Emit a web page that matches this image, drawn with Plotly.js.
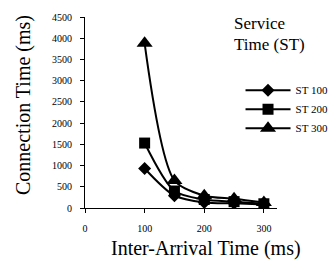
<!DOCTYPE html>
<html>
<head>
<meta charset="utf-8">
<script src="https://cdn.plot.ly/plotly-3.0.1.min.js"></script>
<style>html,body{margin:0;padding:0;background:#fff;}#chart{width:329px;height:260px;}</style>
</head>
<body>
<div id="chart"></div>
<script>
var interArrival = [100, 150, 200, 250, 300];
var st100 = [930, 290, 130, 110, 80];
var st200 = [1530, 400, 200, 150, 100];
var st300 = [3880, 650, 290, 220, 130];
var seriesNames = ['ST 100', 'ST 200', 'ST 300'];
var xTicks = [0, 100, 200, 300];
var yTicks = [0, 500, 1000, 1500, 2000, 2500, 3000, 3500, 4000, 4500];

var FONT = 'Liberation Serif';
var symbols = ['diamond', 'square', 'triangle-up'];
var sizes = [10, 11, 14];
var data = [st100, st200, st300].map(function (ys, i) {
  return {
    x: interArrival, y: ys, name: seriesNames[i], type: 'scatter', mode: 'lines+markers',
    line: {color: '#000', width: 2, shape: 'spline', smoothing: 0.8},
    marker: {symbol: symbols[i], size: sizes[i], color: '#000'}
  };
});

// pixel helpers for annotation placement (plot area: x 85..277, y 17..208)
function px(x) { return (x - 85) / 192; }
function py(y) { return (208 - y) / 191; }

var layout = {
  width: 329, height: 260,
  margin: {l: 85, r: 52, t: 17, b: 52, autoexpand: false},
  paper_bgcolor: '#fff', plot_bgcolor: '#fff',
  font: {family: FONT, color: '#000'},
  showlegend: true,
  legend: {x: 0.81, y: 0.693, xanchor: 'left', yanchor: 'top', font: {family: FONT, size: 11, color: '#000'},
           itemwidth: 45, bgcolor: 'rgba(0,0,0,0)', tracegroupgap: 0},
  xaxis: {
    range: [0, 322], tickvals: xTicks, ticktext: xTicks.map(String),
    showgrid: false, zeroline: false, showline: true, linecolor: '#000', linewidth: 1,
    ticks: 'outside', ticklen: 4, tickcolor: '#000', ticklabelstandoff: 7,
    tickfont: {family: FONT, size: 10, color: '#000'}
  },
  yaxis: {
    range: [0, 4500], tickvals: yTicks, ticktext: yTicks.map(String),
    showgrid: false, zeroline: false, showline: true, linecolor: '#000', linewidth: 1,
    ticks: 'outside', ticklen: 4, tickcolor: '#000', ticklabelstandoff: 6,
    tickfont: {family: FONT, size: 10, color: '#000'}
  },
  annotations: [{
    text: 'Service', xref: 'paper', yref: 'paper', x: px(232), y: py(24),
    xanchor: 'left', yanchor: 'middle', showarrow: false,
    font: {family: FONT, size: 17, color: '#000'}
  }, {
    text: 'Time (ST)', xref: 'paper', yref: 'paper', x: px(232), y: py(44),
    xanchor: 'left', yanchor: 'middle', showarrow: false,
    font: {family: FONT, size: 17, color: '#000'}
  }, {
    text: 'Inter-Arrival Time (ms)', xref: 'paper', yref: 'paper', x: px(206), y: py(248),
    xanchor: 'center', yanchor: 'middle', showarrow: false,
    font: {family: FONT, size: 20, color: '#000'}
  }, {
    text: 'Connection Time (ms)', xref: 'paper', yref: 'paper', x: px(23), y: py(105),
    xanchor: 'center', yanchor: 'middle', showarrow: false, textangle: -90,
    font: {family: FONT, size: 20, color: '#000'}
  }]
};

Plotly.newPlot('chart', data, layout, {displayModeBar: false, staticPlot: true});
</script>
</body>
</html>
